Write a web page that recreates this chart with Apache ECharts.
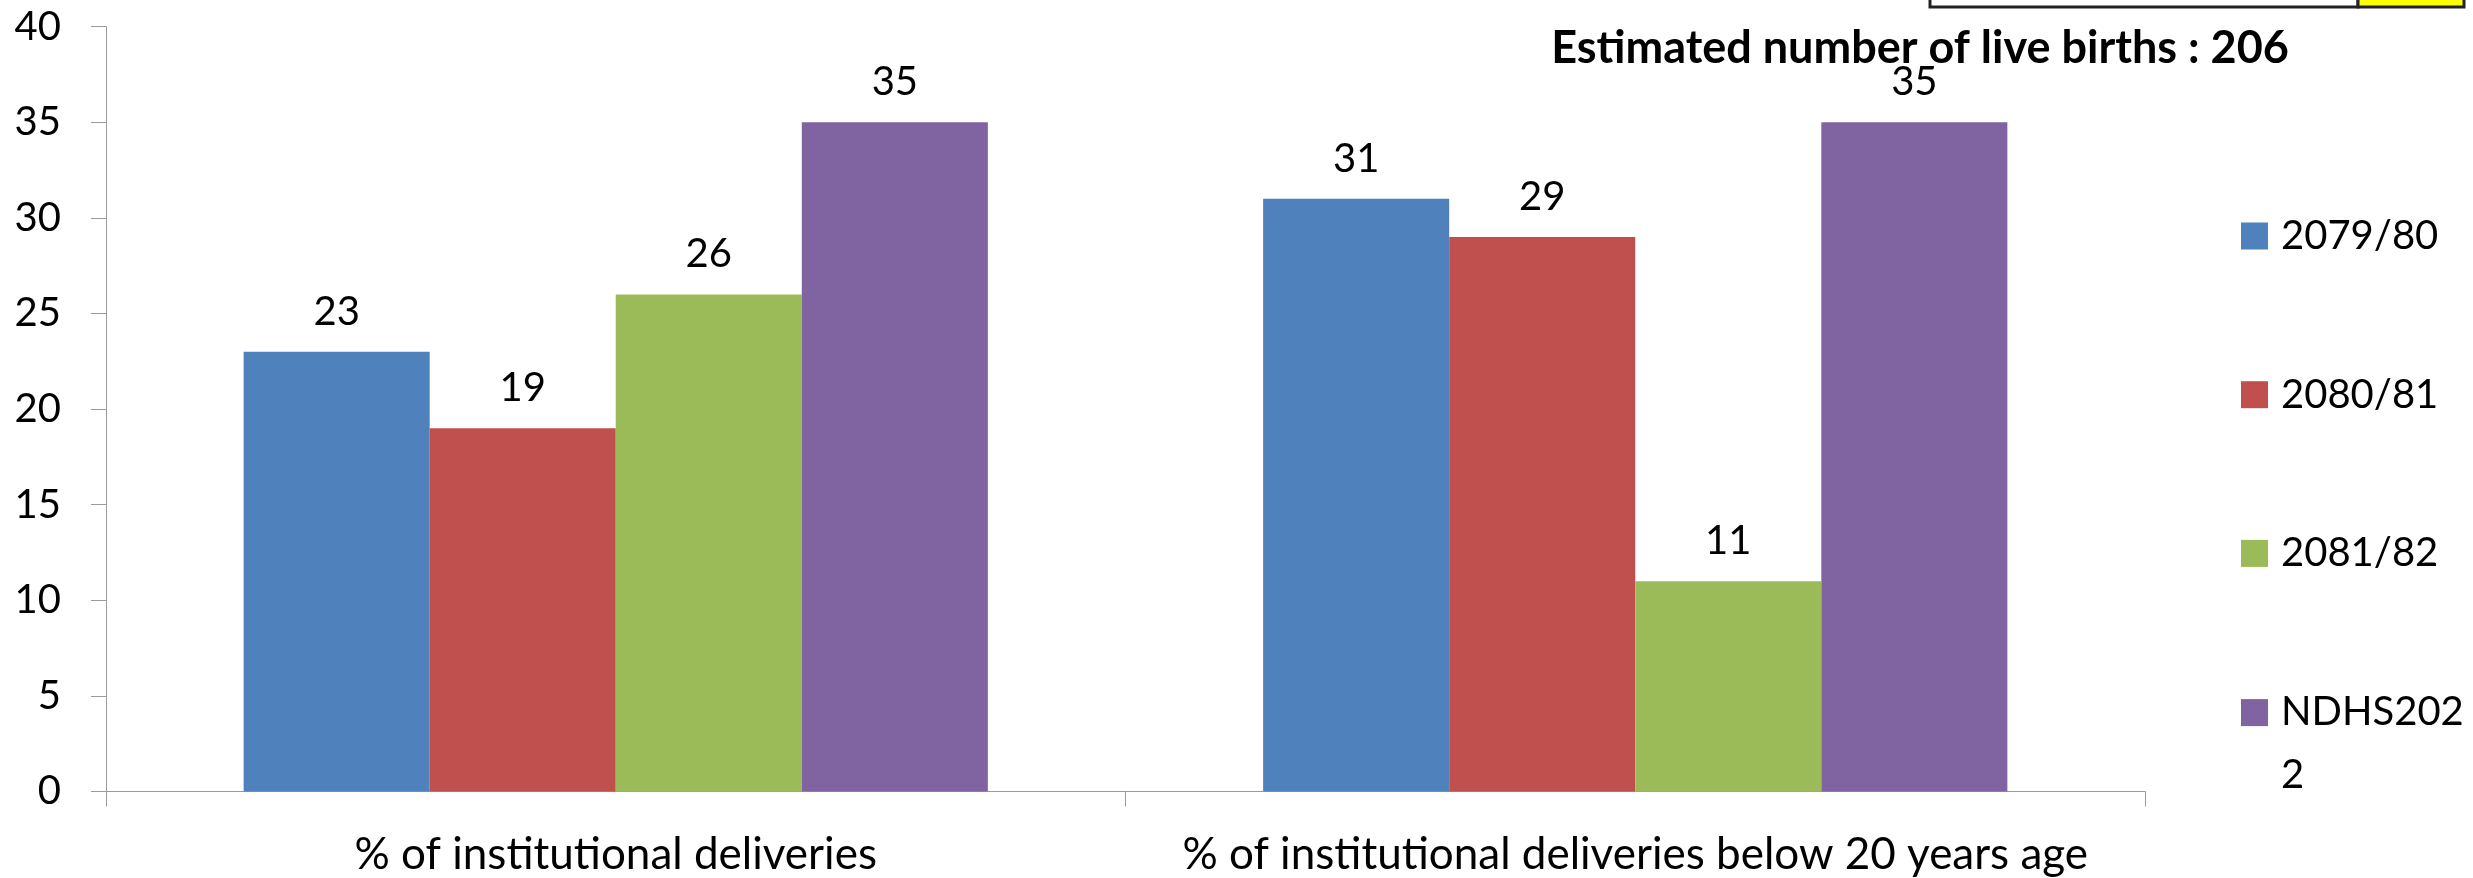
<!DOCTYPE html>
<html>
<head>
<meta charset="utf-8">
<script src="https://cdn.jsdelivr.net/npm/echarts@6/dist/echarts.min.js"></script>
<style>
html,body{margin:0;padding:0;background:#fff;}
#chart{width:2473px;height:878px;}
</style>
</head>
<body>
<div id="chart"></div>
<script>
var categories = ['% of institutional deliveries', '% of institutional deliveries below 20 years age'];
var seriesNames = ['2079/80', '2080/81', '2081/82', 'NDHS2022'];
var values2079 = [23, 31];
var values2080 = [19, 29];
var values2081 = [26, 11];
var valuesNDHS = [35, 35];
var yTicks = {min: 0, max: 40, interval: 5};
var titleText = 'Estimated number of live births : 206';

var colors = ['#4F81BD', '#C0504D', '#9BBB59', '#8064A2'];
var allValues = [values2079, values2080, values2081, valuesNDHS];
var FONT = 'Lato, "Open Sans", sans-serif';

var chart = echarts.init(document.getElementById('chart'));
var series = seriesNames.map(function (name, i) {
  return {
    name: name,
    type: 'bar',
    data: allValues[i],
    barGap: '0%',
    barCategoryGap: '27%',
    itemStyle: {color: colors[i]},
    label: {
      show: true,
      position: 'top',
      distance: 20,
      color: '#000',
      fontSize: 40,
      fontFamily: FONT
    }
  };
});

chart.setOption({
  animation: false,
  backgroundColor: '#fff',
  title: {
    text: titleText,
    left: 1920,
    top: 26,
    textAlign: 'center',
    padding: 0,
    textStyle: {fontSize: 45, fontWeight: 'bold', fontFamily: FONT, color: '#000'}
  },
  graphic: [
    {type: 'rect', shape: {x: 1930, y: -10, width: 428, height: 17}, style: {fill: '#fff', stroke: '#222', lineWidth: 3}},
    {type: 'rect', shape: {x: 2358, y: -10, width: 106, height: 17}, style: {fill: '#FFFF00', stroke: '#222', lineWidth: 3}}
  ],
  legend: {
    orient: 'vertical',
    left: 2236,
    top: 169,
    itemWidth: 27,
    itemHeight: 27,
    itemGap: 34.7,
    icon: 'rect',
    formatter: function (name) {
      if (name.length > 7) {
        return '{a|' + name.slice(0, 7) + '}\n{b|' + name.slice(7) + '}';
      }
      return name;
    },
    textStyle: {
      fontSize: 40, fontFamily: FONT, color: '#000', lineHeight: 124, padding: [0, 0, 0, 8],
      rich: {
        a: {fontSize: 40, fontFamily: FONT, color: '#000', lineHeight: 124},
        b: {fontSize: 40, fontFamily: FONT, color: '#000', lineHeight: 1}
      }
    },
    data: seriesNames
  },
  grid: {left: 106, right: 328, top: 26.7, bottom: 86.5, containLabel: false},
  xAxis: {
    type: 'category',
    data: categories,
    axisLine: {lineStyle: {color: '#9a9a9a', width: 1}},
    axisTick: {show: true, length: 15, lineStyle: {color: '#9a9a9a'}},
    axisLabel: {fontSize: 44, fontFamily: FONT, color: '#000', margin: 41, interval: 0}
  },
  yAxis: {
    type: 'value',
    min: yTicks.min,
    max: yTicks.max,
    interval: yTicks.interval,
    splitLine: {show: false},
    axisLine: {show: true, lineStyle: {color: '#9a9a9a', width: 1}},
    axisTick: {show: true, length: 15, lineStyle: {color: '#9a9a9a'}},
    axisLabel: {fontSize: 40, fontFamily: FONT, color: '#000', margin: 45}
  },
  series: series
});
</script>
</body>
</html>
